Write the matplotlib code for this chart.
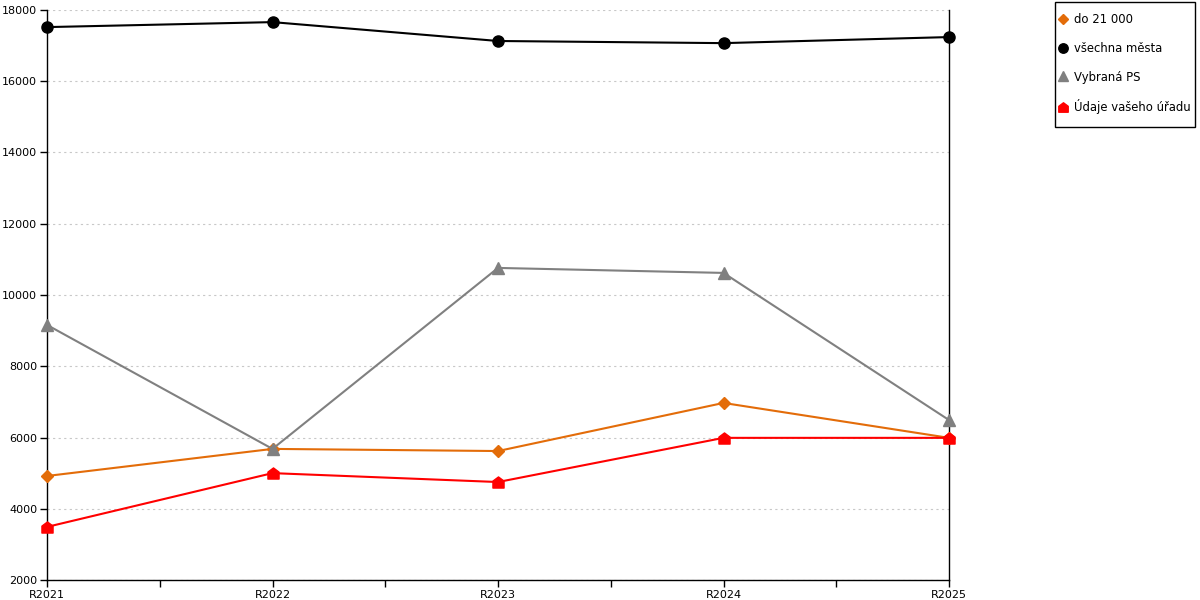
import numpy as np
import matplotlib.pyplot as plt
from matplotlib.path import Path
from matplotlib.lines import Line2D
from matplotlib.patches import Rectangle

years = ['R2021', 'R2022', 'R2023', 'R2024', 'R2025']
do_21000 = [4920, 5680, 5620, 6970, 5990]
vsechna_mesta = [17520, 17660, 17130, 17070, 17240]
vybrana_ps = [9160, 5680, 10760, 10620, 6490]
vas_urad = [3490, 5000, 4750, 5990, 5990]

# domecek - marker pro "Údaje vašeho úřadu"
house = Path([(-1, -1), (1, -1), (1, 0.25), (0, 1), (-1, 0.25), (-1, -1)],
             [Path.MOVETO, Path.LINETO, Path.LINETO, Path.LINETO, Path.LINETO, Path.CLOSEPOLY])

series = [
    ('do 21 000', do_21000, '#E36C09', 'D', 6),
    ('všechna města', vsechna_mesta, '#000000', 'o', 8),
    ('Vybraná PS', vybrana_ps, '#808080', '^', 8),
    ('Údaje vašeho úřadu', vas_urad, '#FF0000', house, 8),
]

fig = plt.figure(figsize=(12, 6), dpi=100)
ax = fig.add_axes([47 / 1200, 20 / 600, 902 / 1200, 570 / 600])

x = np.arange(len(years))
handles = []
for label, vals, color, marker, ms in series:
    ax.plot(x, vals, color=color, lw=1.5, marker=marker, ms=ms, mec=color, mfc=color, clip_on=False, zorder=3)
    handles.append(Line2D([], [], ls='none', marker=marker, color=color, ms=ms * 0.85, label=label))

ax.set_xlim(0, 4)
ax.set_ylim(2000, 18000)
ax.set_yticks(range(2000, 18001, 2000))
ax.set_xticks(x)
ax.set_xticklabels(years)
ax.set_xticks([0.5, 1.5, 2.5, 3.5], minor=True)
ax.tick_params(axis='both', which='both', length=5, width=1, labelsize=8, pad=2)
ax.grid(axis='y', color='#c8c8c8', ls=(0, (2, 3)), lw=0.8)
ax.spines['top'].set_visible(False)
for s in ['left', 'bottom', 'right']:
    ax.spines[s].set_linewidth(1)

# ramecek legendy
fig.patches.append(Rectangle((1055 / 1200, 1 - 127 / 600), 140 / 1200, 125 / 600,
                             transform=fig.transFigure, fill=False, edgecolor='black', lw=1))
fig.legend(handles=handles, loc='upper left', bbox_to_anchor=(1057 / 1200, 1 - 13 / 600),
           frameon=False, fontsize=8.4, borderpad=0, borderaxespad=0,
           labelspacing=1.35, handlelength=1.0, handletextpad=0.5)

fig.savefig('out.png', dpi=100)
